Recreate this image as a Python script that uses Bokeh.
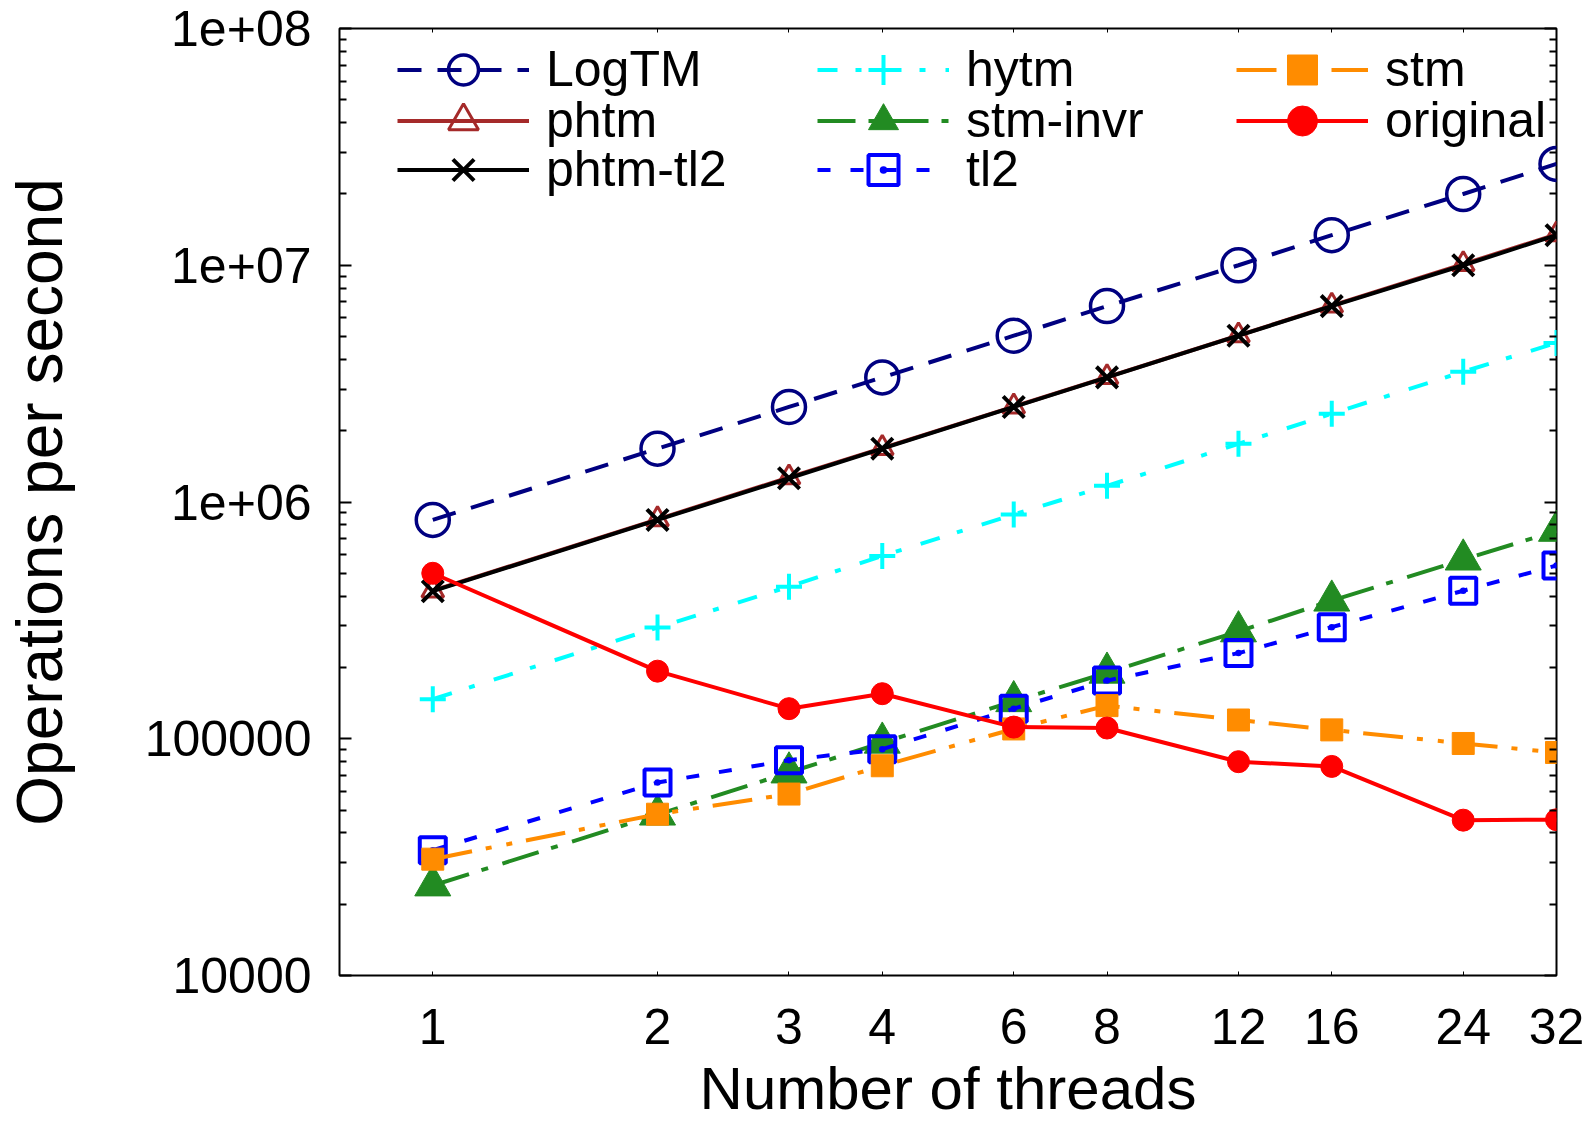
from bokeh.plotting import figure
from bokeh.models import (Range1d, FixedTicker, LogAxis, CustomJSTickFormatter,
                          Legend, LegendItem)
from bokeh.embed import file_html
from bokeh.resources import INLINE

# ---------------- data ----------------
threads = [1, 2, 3, 4, 6, 8, 12, 16, 24, 32]
y_major_ticks = [1e4, 1e5, 1e6, 1e7, 1e8]

logtm = [8.4e5, 1.68e6, 2.52e6, 3.36e6, 5.04e6, 6.72e6, 1.0e7, 1.34e7, 2.0e7, 2.68e7]
phtm = [4.22e5, 8.45e5, 1.27e6, 1.69e6, 2.53e6, 3.37e6, 5.05e6, 6.75e6, 1.01e7, 1.35e7]
phtm_tl2 = [4.2e5, 8.4e5, 1.26e6, 1.68e6, 2.52e6, 3.36e6, 5.04e6, 6.72e6, 1.0e7, 1.34e7]
hytm = [1.47e5, 2.95e5, 4.39e5, 5.92e5, 8.85e5, 1.17e6, 1.76e6, 2.36e6, 3.55e6, 4.7e6]
stm_invr = [2.4e4, 4.78e4, 7.2e4, 9.62e4, 1.44e5, 1.9e5, 2.84e5, 3.83e5, 5.71e5, 7.55e5]
tl2 = [3.38e4, 6.53e4, 8.12e4, 9.04e4, 1.34e5, 1.76e5, 2.3e5, 2.96e5, 4.22e5, 5.39e5]
stm = [3.1e4, 4.8e4, 5.84e4, 7.69e4, 1.1e5, 1.38e5, 1.2e5, 1.09e5, 9.55e4, 8.75e4]
original = [5.0e5, 1.93e5, 1.34e5, 1.55e5, 1.12e5, 1.11e5, 8.0e4, 7.64e4, 4.53e4, 4.55e4]

x_title = "Number of threads"
y_title = "Operations per second"

FONT = "Liberation Sans"
W, H = 1595, 1125
BL, BR, BT, BB = 339, 39, 28, 150
FRAME_H = H - BT - BB

p = figure(width=W, height=H, x_axis_type="log", y_axis_type="log",
           x_range=Range1d(0.75, 32), y_range=Range1d(1e4, 1e8),
           output_backend="svg", toolbar_location=None,
           min_border_left=BL, min_border_right=BR, min_border_top=BT,
           min_border_bottom=BB)
p.xgrid.visible = False
p.ygrid.visible = False
p.outline_line_color = "black"
p.outline_line_width = 2
p.outline_line_alpha = 1.0

y_minor = [m * 10 ** k for k in range(4, 8) for m in range(2, 10)]
yticker = FixedTicker(ticks=y_major_ticks, minor_ticks=y_minor)
xticker = FixedTicker(ticks=threads, minor_ticks=[])

yfmt = CustomJSTickFormatter(code="""
const e = Math.round(Math.log10(tick));
if (e <= 5) { return String(Math.round(tick)); }
return "1e+" + (e < 10 ? "0" : "") + e;
""")
xfmt = CustomJSTickFormatter(code="return String(Math.round(tick));")
blank = CustomJSTickFormatter(code="return '';")

xa = p.xaxis[0]
xa.ticker = xticker
xa.formatter = xfmt
xa.axis_label = x_title
xa.axis_label_text_font = FONT
xa.axis_label_text_font_size = "60px"
xa.axis_label_text_font_style = "normal"
xa.axis_label_text_color = "black"
xa.axis_label_standoff = 8
xa.major_label_text_font = FONT
xa.major_label_text_font_size = "50px"
xa.major_label_text_color = "black"
xa.major_label_standoff = 33
xa.major_tick_in = 4
xa.major_tick_out = 0
xa.minor_tick_in = 0
xa.minor_tick_out = 0
xa.axis_line_color = None
xa.major_tick_line_width = 1

ya = p.yaxis[0]
ya.ticker = yticker
ya.formatter = yfmt
ya.axis_label = y_title
ya.axis_label_text_font = FONT
ya.axis_label_text_font_size = "64px"
ya.axis_label_text_font_style = "normal"
ya.axis_label_text_color = "black"
ya.axis_label_standoff = 66
ya.major_label_text_font = FONT
ya.major_label_text_font_size = "50px"
ya.major_label_text_color = "black"
ya.major_label_standoff = 28
ya.major_tick_in = 12
ya.major_tick_out = 0
ya.minor_tick_in = 7
ya.minor_tick_out = 0
ya.major_tick_line_width = 2
ya.minor_tick_line_width = 2
ya.axis_line_color = None

ra = LogAxis(ticker=yticker, formatter=blank, major_tick_in=12, major_tick_out=0,
             minor_tick_in=7, minor_tick_out=0, major_tick_line_width=2,
             minor_tick_line_width=2, axis_line_color=None, major_label_standoff=0,
             major_label_text_font_size="1px")
p.add_layout(ra, "right")
ta = LogAxis(ticker=xticker, formatter=blank, major_tick_in=4, major_tick_out=0,
             minor_tick_in=0, minor_tick_out=0, axis_line_color=None,
             major_label_standoff=0, major_label_text_font_size="1px")
p.add_layout(ta, "above")

# ---------------- series ----------------
series = [
    # label, data, color, dash, marker, size, fill, marker line width
    ("LogTM", logtm, "#000080", "24 16", "circle", 33, None, 3.5),
    ("phtm", phtm, "#A52A2A", "solid", "triangle", 22, None, 3),
    ("phtm-tl2", phtm_tl2, "black", "solid", "x", 30, None, 4),
    ("hytm", hytm, "#00FFFF", "20 18 6 20", "cross", 26, None, 4),
    ("stm-invr", stm_invr, "#228B22", "38 13 7 15", "triangle", 36, "#228B22", 1),
    ("tl2", tl2, "#0000FF", "13 20", "square_dot", 26, None, 4),
    ("stm", stm, "#FF8C00", "40 14 6 15 6 14", "square", 22, "#FF8C00", 1),
    ("original", original, "#FF0000", "solid", "circle", 22, "#FF0000", 1),
]

items = {}
for label, data, color, dash, marker, size, fill, mlw in series:
    lr = p.line(threads, data, line_color=color, line_width=4, line_dash=dash)
    sr = p.scatter(threads, data, marker=marker, size=size, line_color=color,
                   line_width=mlw, fill_color=fill)
    items[label] = LegendItem(label=label, renderers=[lr, sr])

# legend: 3 columns, gnuplot-style column-major order, one entry per legend box
cols = [["LogTM", "phtm", "phtm-tl2"], ["hytm", "stm-invr", "tl2"], ["stm", "original"]]
col_x = [58, 478, 897]
row_center = [69, 120, 169]   # screen px from top of canvas
ITEM_H = 75
for col, xo in zip(cols, col_x):
    for r, name in enumerate(col):
        top_from_frame = row_center[r] - ITEM_H / 2 - BT
        leg = Legend(items=[items[name]],
                     location=(xo, FRAME_H - top_from_frame - ITEM_H),
                     label_text_font=FONT, label_text_font_size="50px",
                     label_text_color="black",
                     glyph_width=132, glyph_height=ITEM_H, label_height=ITEM_H,
                     label_standoff=17, spacing=0, padding=0, margin=0,
                     border_line_color=None, background_fill_alpha=0)
        p.add_layout(leg, "center")

open("out.html", "w").write(file_html(p, INLINE))
